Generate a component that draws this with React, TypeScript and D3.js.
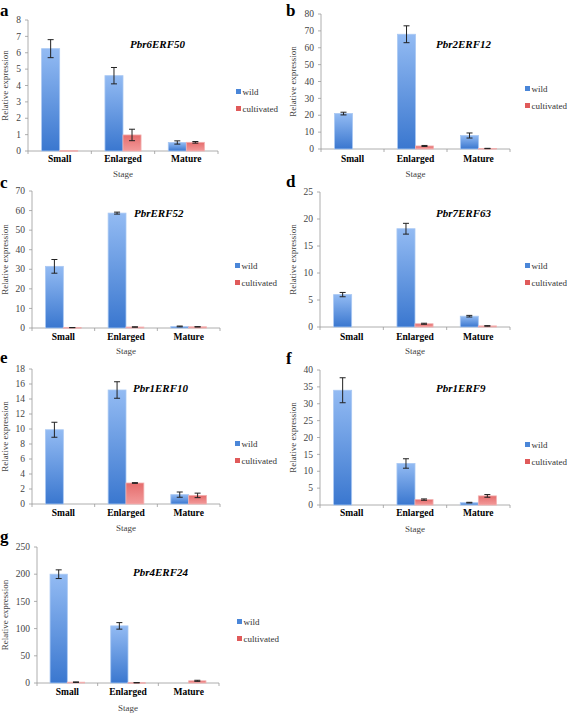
import React from "react";
import * as d3 from "d3";

const stages = ["Small", "Enlarged", "Mature"];
const series = ["wild", "cultivated"];

const geneNames = ["Pbr6ERF50", "Pbr2ERF12", "PbrERF52", "Pbr7ERF63", "Pbr1ERF10", "Pbr1ERF9", "Pbr4ERF24"];
const panelLetters = ["a", "b", "c", "d", "e", "f", "g"];

const wildValues = [
  [6.25, 4.6, 0.52],
  [21, 68, 8],
  [31.5, 58.7, 0.8],
  [6.0, 18.2, 2.0],
  [9.9, 15.2, 1.25],
  [34, 12.3, 0.7],
  [200, 105, 0],
];
const wildErrors = [
  [0.55, 0.5, 0.1],
  [0.8, 5, 1.5],
  [3.5, 0.5, 0.2],
  [0.4, 1.0, 0.15],
  [1.0, 1.1, 0.35],
  [3.7, 1.4, 0.1],
  [8, 6, 0],
];
const cultValues = [
  [0.02, 0.98, 0.53],
  [0, 1.8, 0.3],
  [0.2, 0.5, 0.6],
  [0, 0.6, 0.2],
  [0, 2.8, 1.15],
  [0, 1.6, 2.7],
  [1.5, 0.5, 4],
];
const cultErrors = [
  [0, 0.35, 0.05],
  [0, 0.3, 0.1],
  [0.05, 0.1, 0.1],
  [0, 0.1, 0.05],
  [0, 0.05, 0.3],
  [0, 0.2, 0.4],
  [0.5, 0.2, 1],
];
const yMax = [8, 80, 70, 25, 18, 40, 250];
const yStep = [1, 10, 10, 5, 2, 5, 50];

// layout (positions only)
const layouts = [
  { ax: 28, top: 20, bottom: 151, right: 218, lx: 0, ly: 16, tx: 130, ty: 48, gx: 236, gy: 92, cy: 162, sy: 177, yt: 20 },
  { ax: 321, top: 14, bottom: 149, right: 510, lx: 286, ly: 16, tx: 436, ty: 48, gx: 525, gy: 89, cy: 162, sy: 177, yt: 25 },
  { ax: 32, top: 191, bottom: 328, right: 220, lx: 0, ly: 188, tx: 134, ty: 217, gx: 235, gy: 266, cy: 340, sy: 354, yt: 24 },
  { ax: 320, top: 192, bottom: 327, right: 510, lx: 286, ly: 187, tx: 436, ty: 217, gx: 525, gy: 266, cy: 340, sy: 354, yt: 24 },
  { ax: 32, top: 369, bottom: 504, right: 220, lx: 0, ly: 363, tx: 133, ty: 392, gx: 235, gy: 444, cy: 516, sy: 531, yt: 24 },
  { ax: 320, top: 370, bottom: 505, right: 510, lx: 286, ly: 364, tx: 436, ty: 392, gx: 525, gy: 445, cy: 516, sy: 532, yt: 24 },
  { ax: 37, top: 547, bottom: 683, right: 219, lx: 0, ly: 542, tx: 133, ty: 576, gx: 237, gy: 622, cy: 695, sy: 711, yt: 29 },
];

const FONT = "Liberation Serif, Times New Roman, DejaVu Serif, serif";
const seriesFill = ["url(#gBlue)", "url(#gRed)"];
const seriesStroke = ["#a9c8f3", "#f2b0b0"];
const legendColor = ["#4a86d8", "#e05a5a"];

const txt = (size: number, extra: React.CSSProperties = {}): React.CSSProperties => ({
  fontFamily: FONT,
  fontSize: size,
  ...extra,
});

function Panel({ i }: { i: number }) {
  const L = layouts[i];
  const y = d3.scaleLinear().domain([0, yMax[i]]).range([L.bottom, L.top]);
  const x0 = d3.scaleBand().domain(stages).range([L.ax, L.right]).paddingInner(0.43).paddingOuter(0.215);
  const x1 = d3.scaleBand().domain(series).range([0, x0.bandwidth()]);
  const ticks = d3.range(0, yMax[i] + yStep[i] / 2, yStep[i]);
  const vals = [wildValues[i], cultValues[i]];
  const errs = [wildErrors[i], cultErrors[i]];
  const band = (L.right - L.ax) / stages.length;
  return (
    <g>
      <text x={L.lx} y={L.ly} style={txt(17, { fontWeight: "bold" })} fill="#000">{panelLetters[i]}</text>
      <line x1={L.ax} x2={L.ax} y1={L.top} y2={L.bottom} stroke="#9a9a9a" strokeWidth={0.8} />
      {ticks.map((t) => (
        <g key={t}>
          <line x1={L.ax - 3} x2={L.ax} y1={y(t)} y2={y(t)} stroke="#9a9a9a" strokeWidth={0.8} />
          <text x={L.ax - 7} y={y(t)} dy="0.33em" textAnchor="end" style={txt(9.5)} fill="#444">{t}</text>
        </g>
      ))}
      <line x1={L.ax} x2={L.right} y1={L.bottom} y2={L.bottom} stroke="#9a9a9a" strokeWidth={0.8} />
      {d3.range(stages.length + 1).map((k) => (
        <line key={k} x1={L.ax + k * band} x2={L.ax + k * band} y1={L.bottom} y2={L.bottom + 3} stroke="#9a9a9a" strokeWidth={0.8} />
      ))}
      {stages.map((s, si) =>
        series.map((ser, k) => {
          const v = vals[k][si];
          const bx = (x0(s) as number) + (x1(ser) as number);
          const bw = x1.bandwidth();
          const yTop = y(v);
          return (
            <g key={s + ser}>
              {v > 0 && (
                <rect x={bx} y={yTop} width={bw} height={Math.max(0.6, L.bottom - yTop)} fill={seriesFill[k]} stroke={seriesStroke[k]} strokeWidth={0.8} />
              )}
              {errs[k][si] > 0 && (
                <g stroke="#222" strokeWidth={1}>
                  <line x1={bx + bw / 2} x2={bx + bw / 2} y1={y(v - errs[k][si])} y2={y(v + errs[k][si])} />
                  <line x1={bx + bw / 2 - 3} x2={bx + bw / 2 + 3} y1={y(v + errs[k][si])} y2={y(v + errs[k][si])} />
                  <line x1={bx + bw / 2 - 3} x2={bx + bw / 2 + 3} y1={y(v - errs[k][si])} y2={y(v - errs[k][si])} />
                </g>
              )}
            </g>
          );
        })
      )}
      {stages.map((s) => (
        <text key={s} x={(x0(s) as number) + x0.bandwidth() / 2} y={L.cy} textAnchor="middle" style={txt(9.5, { fontWeight: "bold" })} fill="#000">{s}</text>
      ))}
      <text x={(L.ax + L.right) / 2} y={L.sy} textAnchor="middle" style={txt(9)} fill="#444">Stage</text>
      <text transform={`translate(${L.ax - L.yt},${(L.top + L.bottom) / 2}) rotate(-90)`} textAnchor="middle" style={txt(9)} fill="#444">Relative expression</text>
      <text x={L.tx} y={L.ty} style={txt(11, { fontWeight: "bold", fontStyle: "italic" })} fill="#000">{geneNames[i]}</text>
      {series.map((ser, k) => (
        <g key={ser}>
          <rect x={L.gx} y={L.gy + k * 17 - 3} width={5} height={5} fill={legendColor[k]} />
          <text x={L.gx + 6.5} y={L.gy + k * 17} dy="0.33em" style={txt(9)} fill="#333">{ser}</text>
        </g>
      ))}
    </g>
  );
}

export default function App() {
  return (
    <svg width={567} height={713} style={{ position: "absolute", left: 0, top: 0, background: "#fff" }}>
      <defs>
        <linearGradient id="gBlue" x1="0" y1="0" x2="0" y2="1">
          <stop offset="0" stopColor="#93bbf3" />
          <stop offset="1" stopColor="#3a77cf" />
        </linearGradient>
        <linearGradient id="gRed" x1="0" y1="0" x2="0" y2="1">
          <stop offset="0" stopColor="#e56c6c" />
          <stop offset="1" stopColor="#f29a9a" />
        </linearGradient>
      </defs>
      <rect width={567} height={713} fill="#fff" />
      {layouts.map((_, i) => (
        <Panel key={i} i={i} />
      ))}
    </svg>
  );
}
